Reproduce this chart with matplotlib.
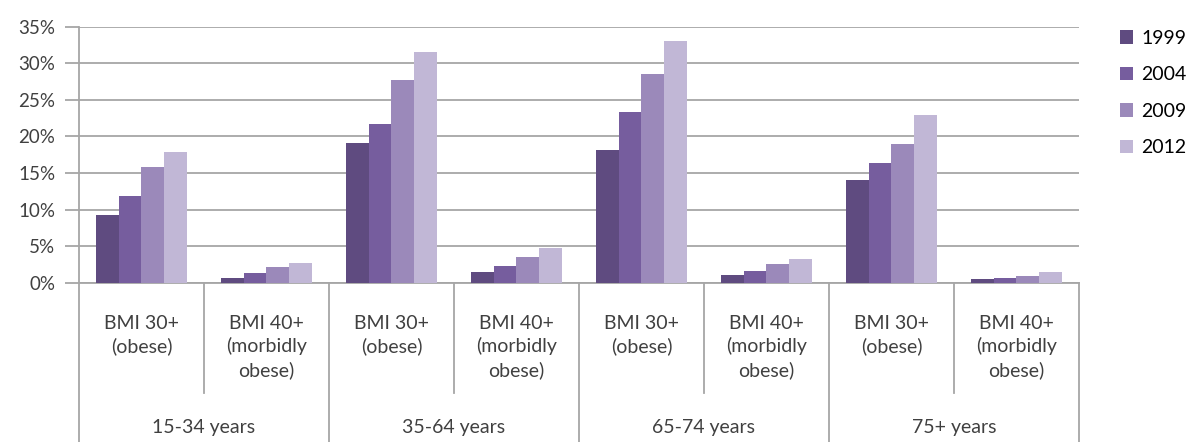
import matplotlib.pyplot as plt
from matplotlib.patches import Patch
from matplotlib.transforms import blended_transform_factory

plt.rcParams['font.family'] = ['Lato', 'DejaVu Sans']

# dados (%)
anos = ['1999', '2004', '2009', '2012']
subcategorias = ['BMI 30+\n(obese)', 'BMI 40+\n(morbidly\nobese)'] * 4
faixas = ['15-34 years', '35-64 years', '65-74 years', '75+ years']

v1999 = [9.2, 0.6, 19.1, 1.5, 18.1, 1.0, 14.1, 0.55]
v2004 = [11.9, 1.3, 21.7, 2.3, 23.3, 1.6, 16.3, 0.7]
v2009 = [15.8, 2.1, 27.7, 3.5, 28.6, 2.6, 19.0, 0.9]
v2012 = [17.9, 2.7, 31.6, 4.8, 33.0, 3.2, 22.9, 1.45]
series = [v1999, v2004, v2009, v2012]
cores = ['#5f4b80', '#765d9e', '#9b89ba', '#c1b7d6']

fig = plt.figure(figsize=(11.89, 4.42), dpi=100)
ax = fig.add_axes([0.0664, 0.3604, 0.841, 0.5792])

largura = 0.727 / 4
for k, (vals, cor) in enumerate(zip(series, cores)):
    xs = [i + 0.5 + (k - 1.5) * largura for i in range(len(vals))]
    ax.bar(xs, vals, width=largura, color=cor, zorder=3)

ax.set_xlim(0, 8)
ax.set_ylim(0, 35)
ax.set_yticks(range(0, 36, 5))
ax.set_yticklabels([f'{t}%' for t in range(0, 36, 5)])
ax.yaxis.grid(True, color='#a6a6a6', linewidth=1.3, zorder=0)
ax.tick_params(axis='y', length=10, width=1.3, color='#a6a6a6',
               labelsize=13.5, labelcolor='#404040', pad=7)
ax.set_xticks([])

for lado in ['top', 'right']:
    ax.spines[lado].set_visible(False)
ax.spines['left'].set_color('#a6a6a6')
ax.spines['bottom'].set_color('#a6a6a6')
ax.spines['left'].set_linewidth(1.3)
ax.spines['bottom'].set_linewidth(1.3)

# tabela de rótulos por baixo do eixo
tr = blended_transform_factory(ax.transData, ax.transAxes)
for i, lab in enumerate(subcategorias):
    ax.text(i + 0.5, -0.125, lab, transform=tr, ha='center', va='top',
            fontsize=14, color='#404040', linespacing=1.38, clip_on=False)
for g, lab in enumerate(faixas):
    ax.text(2 * g + 1, -0.567, lab, transform=tr, ha='center', va='center',
            fontsize=14, color='#404040', clip_on=False)

for x in range(0, 9):
    fundo = -0.43 if x % 2 == 1 else -0.64
    ax.plot([x, x], [0, fundo], transform=tr, color='#a6a6a6',
            linewidth=1.3, clip_on=False)

handles = [Patch(facecolor=c, edgecolor='none', label=a) for a, c in zip(anos, cores)]
fig.legend(handles=handles, loc='upper left', bbox_to_anchor=(1112 / 1189, 1 - 22 / 442),
           frameon=False, fontsize=14, handlelength=0.7, handleheight=0.7,
           labelspacing=1.0, handletextpad=0.4, borderaxespad=0)

fig.savefig('out.png', dpi=100)
